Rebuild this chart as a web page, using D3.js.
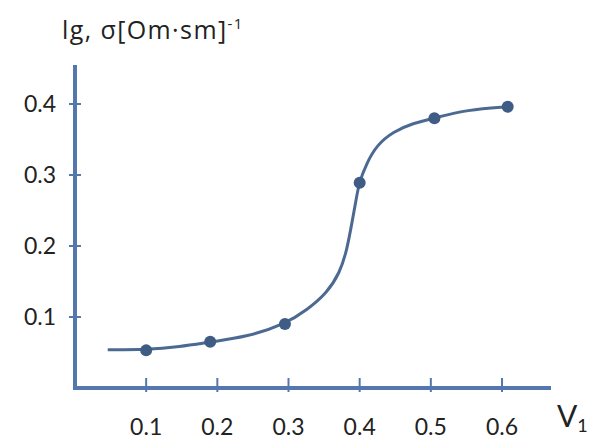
<!DOCTYPE html>
<html>
<head>
<meta charset="utf-8">
<script src="https://cdn.jsdelivr.net/npm/d3@7"></script>
<style>
  body { margin: 0; background: #fff; }
  text { font-family: Lato, "Open Sans", sans-serif; fill: #222; }
</style>
</head>
<body>
<div id="chart"></div>
<script>
// measured points (V1, lg sigma)
var pointX = [0.1, 0.19, 0.295, 0.4, 0.505, 0.608];
var pointY = [0.053, 0.065, 0.090, 0.289, 0.380, 0.396];

// curve
var curveX = [0.046, 0.100, 0.147, 0.191, 0.242, 0.295, 0.326, 0.354, 0.372, 0.382, 0.389, 0.395, 0.399, 0.410, 0.424, 0.447, 0.475, 0.504, 0.551, 0.608];
var curveY = [0.054, 0.054, 0.058, 0.065, 0.072, 0.090, 0.110, 0.134, 0.162, 0.194, 0.232, 0.265, 0.289, 0.317, 0.342, 0.361, 0.373, 0.380, 0.392, 0.396];

var xTicks = [0.1, 0.2, 0.3, 0.4, 0.5, 0.6];
var yTicks = [0.1, 0.2, 0.3, 0.4];

var width = 598, height = 440;
var axisColor = "#5478ad", lineColor = "#4c6a91", dotColor = "#3e5c84";

var svg = d3.select("#chart").append("svg")
    .attr("width", width)
    .attr("height", height);

var x = d3.scaleLinear().domain([0, 0.6]).range([75, 502]);
var y = d3.scaleLinear().domain([0, 0.4]).range([388, 104]);

// axes
svg.append("line")
    .attr("x1", x(0)).attr("x2", x(0))
    .attr("y1", 65).attr("y2", y(0) + 2)
    .attr("stroke", axisColor).attr("stroke-width", 4);
svg.append("line")
    .attr("x1", x(0) - 2).attr("x2", 551)
    .attr("y1", y(0)).attr("y2", y(0))
    .attr("stroke", axisColor).attr("stroke-width", 4);

svg.selectAll("line.ytick")
    .data(yTicks)
    .enter().append("line")
    .attr("class", "ytick")
    .attr("x1", x(0) - 6).attr("x2", x(0) + 6)
    .attr("y1", d => y(d)).attr("y2", d => y(d))
    .attr("stroke", axisColor).attr("stroke-width", 2);

svg.selectAll("text.ylab")
    .data(yTicks)
    .enter().append("text")
    .attr("class", "ylab")
    .attr("x", 56)
    .attr("y", d => y(d))
    .attr("dy", "0.36em")
    .style("text-anchor", "end")
    .style("font-size", "23px")
    .text(d => d3.format(".1f")(d));

svg.selectAll("line.xtick")
    .data(xTicks)
    .enter().append("line")
    .attr("class", "xtick")
    .attr("x1", d => x(d)).attr("x2", d => x(d))
    .attr("y1", y(0) - 10).attr("y2", y(0) + 4)
    .attr("stroke", axisColor).attr("stroke-width", 2);

svg.selectAll("text.xlab")
    .data(xTicks)
    .enter().append("text")
    .attr("class", "xlab")
    .attr("x", d => x(d))
    .attr("y", 435)
    .style("text-anchor", "middle")
    .style("font-size", "23px")
    .text(d => d3.format(".1f")(d));

// axis titles
var yTitle = svg.append("text")
    .attr("x", 62).attr("y", 39)
    .style("font-family", "'Open Sans', sans-serif")
    .style("font-size", "25px")
    .style("letter-spacing", "1.4px");
yTitle.append("tspan").text("lg, σ[Om·sm]");
yTitle.append("tspan").attr("dy", -10).style("font-size", "15px").text("-1");

var xTitle = svg.append("text")
    .attr("x", 557).attr("y", 427)
    .style("font-size", "30px");
xTitle.append("tspan").text("V");
xTitle.append("tspan").attr("dy", 5).style("font-size", "18px").text("1");

// curve
var curveData = curveX.map((v, i) => [v, curveY[i]]);
svg.append("path")
    .datum(curveData)
    .attr("fill", "none")
    .attr("stroke", lineColor)
    .attr("stroke-width", 3)
    .attr("d", d3.line()
        .x(d => x(d[0]))
        .y(d => y(d[1]))
        .curve(d3.curveBasis));

svg.selectAll("circle.dot")
    .data(pointX.map((v, i) => [v, pointY[i]]))
    .enter().append("circle")
    .attr("class", "dot")
    .attr("cx", d => x(d[0]))
    .attr("cy", d => y(d[1]))
    .attr("r", 6)
    .attr("fill", dotColor);
</script>
</body>
</html>
